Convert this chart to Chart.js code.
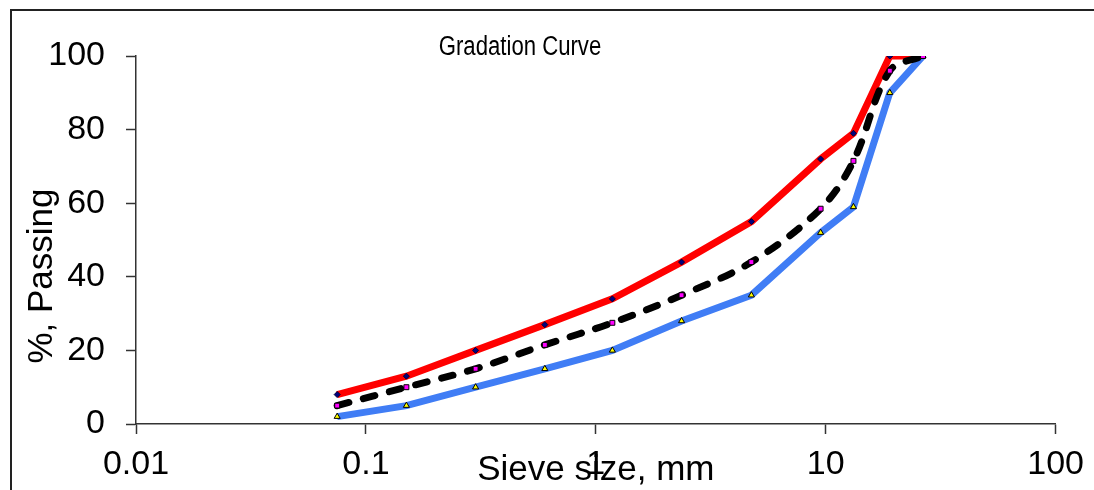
<!DOCTYPE html>
<html>
<head>
<meta charset="utf-8">
<title>Gradation Curve</title>
<script src="https://cdn.jsdelivr.net/npm/chart.js@4.4.1/dist/chart.umd.min.js"></script>
<style>
  html, body { margin: 0; padding: 0; background: #fff; overflow: hidden; }
  #frame { position: absolute; left: 10px; top: 9px; width: 2000px; height: 2000px;
           border-top: 2px solid #222; border-left: 2px solid #222; }
  #chart { position: absolute; left: 0; top: 0; }
</style>
</head>
<body>
<div id="frame"></div>
<canvas id="chart" width="1094" height="490"></canvas>
<script>
    // sieve sizes (mm) and % passing for each curve
    var sieveSizes = [0.075, 0.15, 0.3, 0.6, 1.18, 2.36, 4.75, 9.5, 13.2, 19, 26.5];
    var upperLimit = [8, 13, 20, 27, 34, 44, 55, 72, 79, 100, 100];
    var lowerLimit = [2, 5, 10, 15, 20, 28, 35, 52, 59, 90, 100];
    var blendCurve = [5, 10, 15, 21.5, 27.5, 35, 44, 58.5, 71.5, 96, 100];

    var xTicks = [0.01, 0.1, 1, 10, 100];
    var yTicks = [0, 20, 40, 60, 80, 100];

    var chartTitle = "Gradation Curve";
    var xTitle = "Sieve size, mm";
    var yTitle = "%, Passing";

    function toPoints(vals) {
        return sieveSizes.map(function (s, i) { return {x: s, y: vals[i]}; });
    }

    // chart title + y title sit where excel put them, not where chart.js would
    var textPlugin = {
        id: 'gradationText',
        afterDraw: function (chart) {
            var ctx = chart.ctx, area = chart.chartArea;
            ctx.save();
            ctx.fillStyle = '#000';
            ctx.textAlign = 'center';
            ctx.textBaseline = 'middle';
            // title font in the original is a narrow face, squeeze it
            ctx.save();
            ctx.translate(area.left + 384, area.top - 8);
            ctx.scale(0.82, 1);
            ctx.font = '27px "Liberation Sans", Arial, sans-serif';
            ctx.fillText(chartTitle, 0, 0);
            ctx.restore();
            ctx.translate(42, (area.top + area.bottom) / 2 + 36);
            ctx.rotate(-Math.PI / 2);
            ctx.font = '35px "Liberation Sans", Arial, sans-serif';
            ctx.fillText(yTitle, 0, 0);
            ctx.restore();
        }
    };

    Chart.defaults.font.family = '"Liberation Sans", Arial, sans-serif';
    Chart.defaults.color = '#000';

    var ctx = document.getElementById("chart").getContext("2d");
    var gradationChart = new Chart(ctx, {
        type: 'line',
        data: {
            datasets: [
                {
                    label: "Upper limit",
                    data: toPoints(upperLimit),
                    borderColor: "#ff0000",
                    borderWidth: 7,
                    tension: 0,
                    pointStyle: 'rectRot',
                    pointRadius: 3,
                    pointBackgroundColor: "#000080",
                    pointBorderColor: "#000033",
                    pointBorderWidth: 1,
                    order: 3
                },
                {
                    label: "Lower limit",
                    data: toPoints(lowerLimit),
                    borderColor: "rgb(64,125,245)",
                    borderWidth: 7,
                    tension: 0,
                    pointStyle: 'triangle',
                    pointRadius: 3.5,
                    pointBackgroundColor: "#ffff00",
                    pointBorderColor: "#000",
                    pointBorderWidth: 1,
                    order: 2
                },
                {
                    label: "Blend",
                    data: toPoints(blendCurve),
                    borderColor: "#000",
                    borderWidth: 7,
                    borderDash: [12, 15],
                    borderCapStyle: 'round',
                    tension: 0.35,
                    pointStyle: 'rect',
                    pointRadius: 3.5,
                    pointBackgroundColor: "#ff00ff",
                    pointBorderColor: "#000",
                    pointBorderWidth: 1,
                    order: 1
                }
            ]
        },
        options: {
            responsive: false,
            devicePixelRatio: 1,
            animation: false,
            layout: { padding: { left: 0, top: 56, right: 38, bottom: 0 } },
            plugins: {
                legend: { display: false },
                tooltip: { enabled: false },
                title: { display: false }
            },
            scales: {
                x: {
                    type: 'logarithmic',
                    min: 0.01,
                    max: 100,
                    afterBuildTicks: function (s) {
                        s.ticks = xTicks.map(function (v) { return {value: v}; });
                    },
                    afterFit: function (s) { s.height = 66; },
                    ticks: {
                        autoSkip: false,
                        maxRotation: 0,
                        padding: 10,
                        font: { size: 34 },
                        callback: function (v) { return String(v); }
                    },
                    grid: { drawOnChartArea: false, tickLength: 10, tickColor: '#333', tickWidth: 1.5 },
                    border: { color: '#333', width: 1.5 },
                    title: { display: true, text: xTitle, font: { size: 35 }, padding: { top: 0, bottom: -1 } }
                },
                y: {
                    type: 'linear',
                    min: 0,
                    max: 100,
                    afterBuildTicks: function (s) {
                        s.ticks = yTicks.map(function (v) { return {value: v}; });
                    },
                    afterFit: function (s) { s.width = 136; },
                    ticks: { padding: 21, font: { size: 34 } },
                    grid: { drawOnChartArea: false, tickLength: 10, tickColor: '#333', tickWidth: 1.5 },
                    border: { color: '#333', width: 1.5 }
                }
            }
        },
        plugins: [textPlugin]
    });
</script>
</body>
</html>
